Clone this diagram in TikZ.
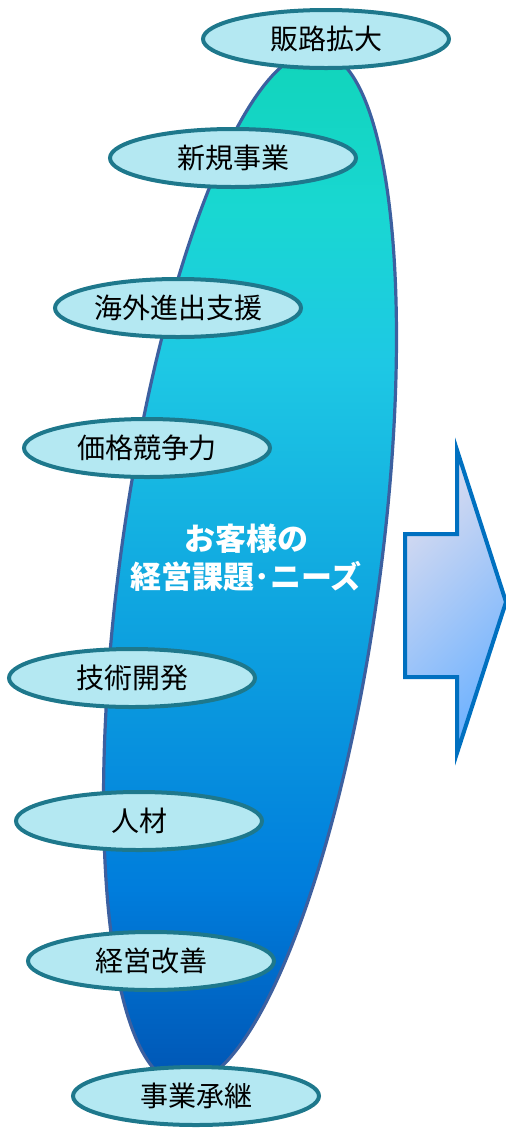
\documentclass[tikz,border=0pt]{standalone}
\usepackage{fontspec}
\newfontfamily\cjk{Noto Sans CJK JP}
\usetikzlibrary{shapes.geometric}
\definecolor{ntop}{RGB}{16,212,185}
\definecolor{nA}{RGB}{25,215,210}
\definecolor{nB}{RGB}{30,200,228}
\definecolor{nC}{RGB}{16,168,224}
\definecolor{nD}{RGB}{0,125,220}
\definecolor{nbot}{RGB}{0,85,180}
\definecolor{needline}{RGB}{60,96,160}
\definecolor{itemfill}{RGB}{180,232,242}
\definecolor{itemline}{RGB}{30,120,140}
\definecolor{arrowline}{RGB}{0,112,192}
\definecolor{arrowlight}{RGB}{218,220,240}
\definecolor{arrowdark}{RGB}{110,178,255}
\pgfdeclareverticalshading{needs}{100bp}{color(0bp)=(nbot); color(25bp)=(nbot);
  color(34.4bp)=(nD); color(48.9bp)=(nC); color(59.6bp)=(nB); color(66.8bp)=(nA);
  color(75bp)=(ntop); color(100bp)=(ntop)}
\tikzset{
        needs/.style={ellipse, draw=needline, line width=3.2pt, shade, shading=needs,
          inner sep=0pt, minimum width=259.8pt, minimum height=1042.8pt, rotate=-7.7},
        item/.style={ellipse, draw=itemline, line width=4pt, fill=itemfill, inner sep=0pt,
          minimum width=246pt, minimum height=58pt, font=\cjk\fontsize{28}{30}\selectfont},
        needlabel/.style={text=white, align=center, font=\cjk\bfseries\fontsize{31}{38}\selectfont},
        bigarrow/.style={draw=arrowline, line width=4pt, top color=arrowlight, bottom color=arrowdark,
          middle color=arrowlight!50!arrowdark, shading angle=45}
          }

\begin{document}
\begin{tikzpicture}[x=1pt, y=-1pt]
        \useasboundingbox (0,0) rectangle (506,1128);
        % big ellipse
        \node[needs] (kadai) at (250,568) {};
        \node[needlabel] (kadailabel) at (246,558) {お客様の\\経営課題･ニーズ};
        % items
        \node[item] (hanro) at (326,39) {販路拡大};
        \node[item] (shinki) at (233,158) {新規事業};
        \node[item] (kaigai) at (178,308) {海外進出支援};
        \node[item] (kakaku) at (147,448) {価格競争力};
        \node[item] (gijutsu) at (132,678) {技術開発};
        \node[item] (jinzai) at (139,821) {人材};
        \node[item] (keiei) at (151,961) {経営改善};
        \node[item] (shokei) at (196,1096) {事業承継};
        % arrow
        \shade[bigarrow] (405,534) -- (457,534) -- (457,450) -- (506,602)
          -- (457,753) -- (457,677) -- (405,677) -- cycle;
      \end{tikzpicture}
\end{document}
